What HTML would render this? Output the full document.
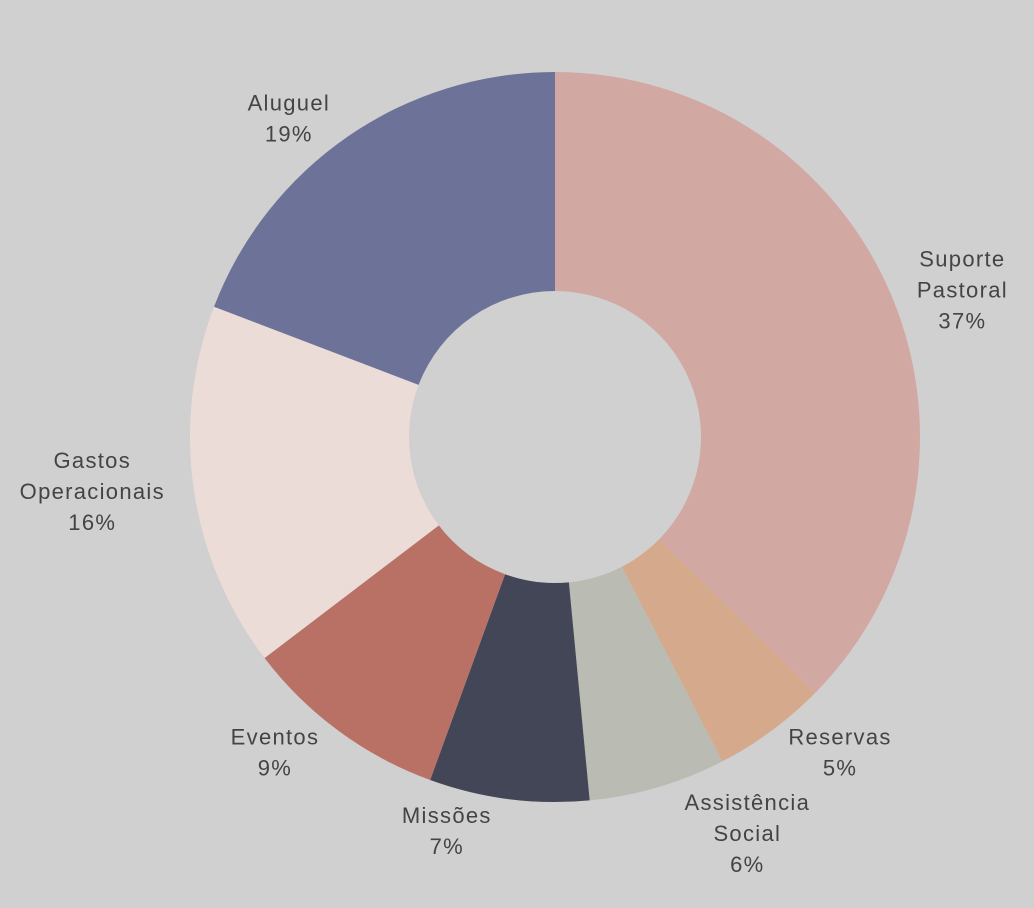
<!DOCTYPE html>
<html><head><meta charset="utf-8">
<style>
html,body{margin:0;padding:0;background:#d0d0d0;}
svg{display:block;}
text{font-family:"Liberation Sans",sans-serif;font-size:22px;letter-spacing:1.3px;fill:#444;}
</style></head>
<body>
<svg id="chart" width="1034" height="908" viewBox="0 0 1034 908"></svg>
<script>
const categories = ["Suporte Pastoral","Reservas","Assistência Social","Missões","Eventos","Gastos Operacionais","Aluguel"];
const labelLines = [["Suporte","Pastoral"],["Reservas"],["Assistência","Social"],["Missões"],["Eventos"],["Gastos","Operacionais"],["Aluguel"]];
const values = [37,5,6,7,9,16,19];
const colors = ["#d2a8a2","#d5a98b","#babbb3","#434657","#b97165","#ecdcd8","#6d7398"];
// layout nudges for outside labels (collision avoidance), not data
const nudgeX = [20,36,74,-55,-31,-47,-28];
const nudgeY = [15,-23,-7,-23,-23,-6,27];

const svg = document.getElementById('chart');
const NS = "http://www.w3.org/2000/svg";
const cx = 555, cy = 437, R = 365, r = 146, LR = 420;
const total = values.reduce((a,b)=>a+b,0);
function pt(rad, a){ return [cx + rad*Math.sin(a), cy - rad*Math.cos(a)]; }
let start = 0;
values.forEach((v,i)=>{
  const sweep = v/total*2*Math.PI;
  const end = start + sweep;
  const large = sweep > Math.PI ? 1 : 0;
  const [x1,y1] = pt(R,start), [x2,y2] = pt(R,end), [x3,y3] = pt(r,end), [x4,y4] = pt(r,start);
  const p = document.createElementNS(NS,'path');
  p.setAttribute('d',`M${x1},${y1} A${R},${R} 0 ${large} 1 ${x2},${y2} L${x3},${y3} A${r},${r} 0 ${large} 0 ${x4},${y4} Z`);
  p.setAttribute('fill',colors[i]);
  
  
  svg.appendChild(p);
  const mid = start + sweep/2;
  let [lx,ly] = pt(LR, mid);
  lx += nudgeX[i]; ly += nudgeY[i];
  const lines = labelLines[i].concat([Math.round(v/total*100) + "%"]);
  const t = document.createElementNS(NS,'text');
  t.setAttribute('text-anchor','middle');
  
  
  const lh = 31;
  const y0 = ly - (lines.length-1)*lh/2 + 8;
  lines.forEach((s,j)=>{
    const ts = document.createElementNS(NS,'tspan');
    ts.setAttribute('x', lx);
    ts.setAttribute('y', y0 + j*lh);
    ts.textContent = s;
    t.appendChild(ts);
  });
  svg.appendChild(t);
  start = end;
});
</script>
</body></html>
